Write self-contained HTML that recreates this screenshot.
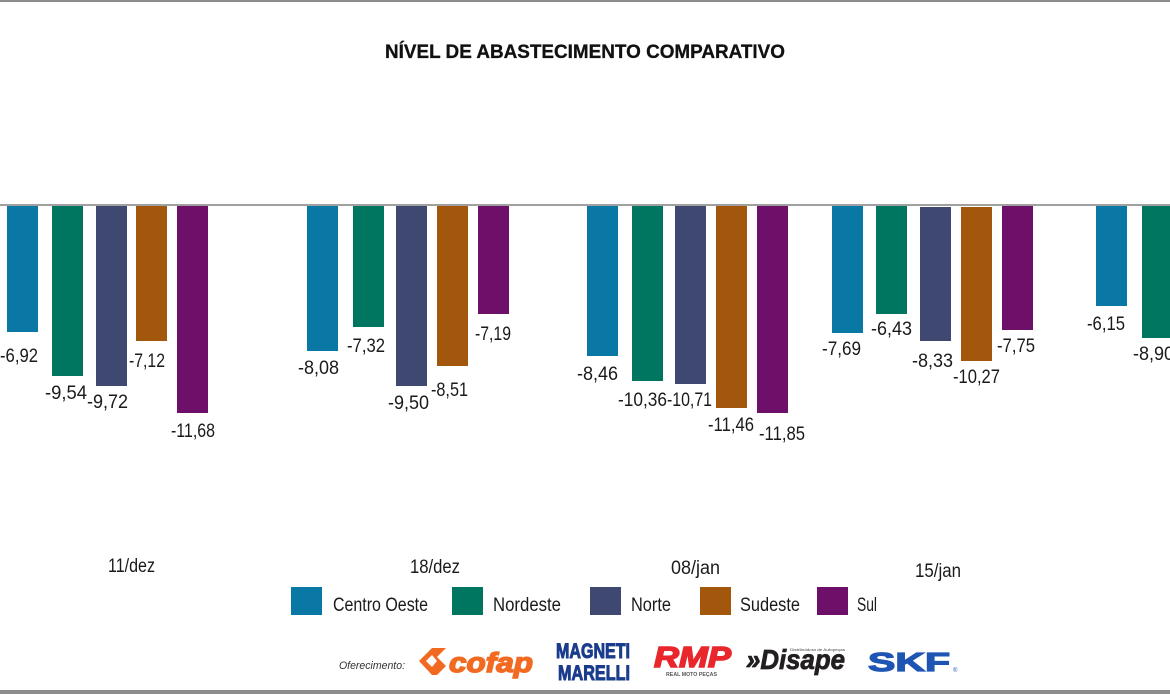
<!DOCTYPE html>
<html><head><meta charset="utf-8"><style>
html,body{margin:0;padding:0;background:#fff;}
svg{display:block;}
text{font-family:"Liberation Sans",sans-serif;}
</style></head><body>
<svg width="1170" height="694" viewBox="0 0 1170 694" xmlns="http://www.w3.org/2000/svg">
<rect x="0" y="0" width="1170" height="694" fill="#fff"/>
<rect x="0" y="0" width="1170" height="2" fill="#8c8c8c"/>
<rect x="0" y="690" width="1170" height="4" fill="#8c8c8c"/>

<text x="385" y="58" font-size="19" font-weight="bold" fill="#111" stroke="#111" stroke-width="0.3" textLength="400" lengthAdjust="spacingAndGlyphs">NÍVEL DE ABASTECIMENTO COMPARATIVO</text>

<!-- baseline -->
<rect x="0" y="204" width="1170" height="2" fill="#a0a0a0"/>

<!-- Group 1 -->
<rect x="7" y="206" width="31" height="126" fill="#0a78a4"/>
<rect x="52" y="206" width="31" height="170" fill="#00755f"/>
<rect x="96" y="206" width="31" height="180" fill="#3e4870"/>
<rect x="136" y="206" width="31" height="135" fill="#a3570d"/>
<rect x="177" y="206" width="31" height="207" fill="#6e106a"/>
<!-- Group 2 -->
<rect x="307" y="206" width="31" height="145" fill="#0a78a4"/>
<rect x="353" y="206" width="31" height="121" fill="#00755f"/>
<rect x="396" y="206" width="31" height="180" fill="#3e4870"/>
<rect x="437" y="206" width="31" height="160" fill="#a3570d"/>
<rect x="478" y="206" width="31" height="108" fill="#6e106a"/>
<!-- Group 3 -->
<rect x="587" y="206" width="31" height="150" fill="#0a78a4"/>
<rect x="632" y="206" width="31" height="175" fill="#00755f"/>
<rect x="675" y="206" width="31" height="178" fill="#3e4870"/>
<rect x="716" y="206" width="31" height="202" fill="#a3570d"/>
<rect x="757" y="206" width="31" height="207" fill="#6e106a"/>
<!-- Group 4 -->
<rect x="832" y="206" width="31" height="127" fill="#0a78a4"/>
<rect x="876" y="206" width="31" height="108" fill="#00755f"/>
<rect x="920" y="207" width="31" height="134" fill="#3e4870"/>
<rect x="961" y="207" width="31" height="154" fill="#a3570d"/>
<rect x="1002" y="206" width="31" height="124" fill="#6e106a"/>
<!-- Group 5 -->
<rect x="1096" y="206" width="31" height="100" fill="#0a78a4"/>
<rect x="1142" y="206" width="31" height="132" fill="#00755f"/>

<g font-size="19" fill="#1a1a1a">
<text x="0" y="362" textLength="38" lengthAdjust="spacingAndGlyphs">-6,92</text>
<text x="45" y="399" textLength="42" lengthAdjust="spacingAndGlyphs">-9,54</text>
<text x="87" y="408" textLength="41" lengthAdjust="spacingAndGlyphs">-9,72</text>
<text x="129" y="367" textLength="36" lengthAdjust="spacingAndGlyphs">-7,12</text>
<text x="171" y="437" textLength="44" lengthAdjust="spacingAndGlyphs">-11,68</text>

<text x="298" y="374" textLength="41" lengthAdjust="spacingAndGlyphs">-8,08</text>
<text x="347" y="352" textLength="38" lengthAdjust="spacingAndGlyphs">-7,32</text>
<text x="388" y="409" textLength="41" lengthAdjust="spacingAndGlyphs">-9,50</text>
<text x="431" y="396" textLength="37" lengthAdjust="spacingAndGlyphs">-8,51</text>
<text x="475" y="340" textLength="36" lengthAdjust="spacingAndGlyphs">-7,19</text>

<text x="577" y="380" textLength="41" lengthAdjust="spacingAndGlyphs">-8,46</text>
<text x="618" y="406" textLength="49" lengthAdjust="spacingAndGlyphs">-10,36</text>
<text x="667" y="406" textLength="45" lengthAdjust="spacingAndGlyphs">-10,71</text>
<text x="708" y="431" textLength="46" lengthAdjust="spacingAndGlyphs">-11,46</text>
<text x="759" y="440" textLength="46" lengthAdjust="spacingAndGlyphs">-11,85</text>

<text x="822" y="355" textLength="39" lengthAdjust="spacingAndGlyphs">-7,69</text>
<text x="871" y="335" textLength="41" lengthAdjust="spacingAndGlyphs">-6,43</text>
<text x="912" y="367" textLength="41" lengthAdjust="spacingAndGlyphs">-8,33</text>
<text x="953" y="383" textLength="47" lengthAdjust="spacingAndGlyphs">-10,27</text>
<text x="997" y="352" textLength="38" lengthAdjust="spacingAndGlyphs">-7,75</text>

<text x="1087" y="330" textLength="38" lengthAdjust="spacingAndGlyphs">-6,15</text>
<text x="1133" y="360" textLength="41" lengthAdjust="spacingAndGlyphs">-8,90</text>

<!-- category labels -->
<text x="108" y="572" textLength="47" lengthAdjust="spacingAndGlyphs">11/dez</text>
<text x="410" y="573" textLength="50" lengthAdjust="spacingAndGlyphs">18/dez</text>
<text x="671" y="574" textLength="49" lengthAdjust="spacingAndGlyphs">08/jan</text>
<text x="915" y="577" textLength="46" lengthAdjust="spacingAndGlyphs">15/jan</text>

<!-- legend -->
<rect x="291" y="587" width="31" height="28" fill="#0a78a4"/>
<text x="333" y="611" textLength="95" lengthAdjust="spacingAndGlyphs">Centro Oeste</text>
<rect x="452" y="587" width="31" height="28" fill="#00755f"/>
<text x="493" y="611" textLength="68" lengthAdjust="spacingAndGlyphs">Nordeste</text>
<rect x="590" y="587" width="31" height="28" fill="#3e4870"/>
<text x="631" y="611" textLength="40" lengthAdjust="spacingAndGlyphs">Norte</text>
<rect x="700" y="587" width="31" height="28" fill="#a3570d"/>
<text x="740" y="611" textLength="60" lengthAdjust="spacingAndGlyphs">Sudeste</text>
<rect x="817" y="587" width="31" height="28" fill="#6e106a"/>
<text x="857" y="611" textLength="20" lengthAdjust="spacingAndGlyphs">Sul</text>
</g>

<!-- sponsors -->
<text x="339" y="669" font-size="11" font-style="italic" fill="#333" textLength="66" lengthAdjust="spacingAndGlyphs">Oferecimento:</text>

<!-- cofap -->
<g fill="#f26a21" stroke="#f26a21">
<polygon points="419,661 432,648 446,648 437,657 446,666 437,675 432,675" stroke-width="0"/>
<polygon points="426,661 432,655 437,661 432,667" fill="#fff" stroke-width="0"/>
<text x="449" y="672" font-size="28" font-weight="bold" font-style="italic" stroke-width="1.5" textLength="84" lengthAdjust="spacingAndGlyphs">cofap</text>
</g>

<!-- Magneti Marelli -->
<g fill="#1b3c8c" stroke="#1b3c8c" stroke-width="1">
<text x="556" y="658" font-size="21" font-weight="bold" textLength="74" lengthAdjust="spacingAndGlyphs">MAGNETI</text>
<text x="558" y="680" font-size="21" font-weight="bold" textLength="72" lengthAdjust="spacingAndGlyphs">MARELLI</text>
</g>

<!-- RMP -->
<text x="654" y="667" font-size="29" font-weight="bold" font-style="italic" fill="#e8262c" stroke="#e8262c" stroke-width="1.5" textLength="77" lengthAdjust="spacingAndGlyphs">RMP</text>
<text x="666" y="676" font-size="5" font-weight="bold" fill="#555" textLength="51" lengthAdjust="spacingAndGlyphs">REAL MOTO PEÇAS</text>

<!-- Disape -->
<text x="746" y="669" font-size="28" font-weight="bold" font-style="italic" fill="#231f20" stroke="#231f20" stroke-width="0.8" textLength="99" lengthAdjust="spacingAndGlyphs">»Disape</text>
<text x="790" y="651" font-size="4" fill="#444" textLength="55" lengthAdjust="spacingAndGlyphs">Distribuidora de Autopeças</text>

<!-- SKF -->
<text x="868" y="671" font-size="26" font-weight="bold" fill="#1e55b3" stroke="#1e55b3" stroke-width="1.2" textLength="82" lengthAdjust="spacingAndGlyphs">SKF</text>
<text x="953" y="672" font-size="6" fill="#1e55b3">®</text>
</svg>
</body></html>
